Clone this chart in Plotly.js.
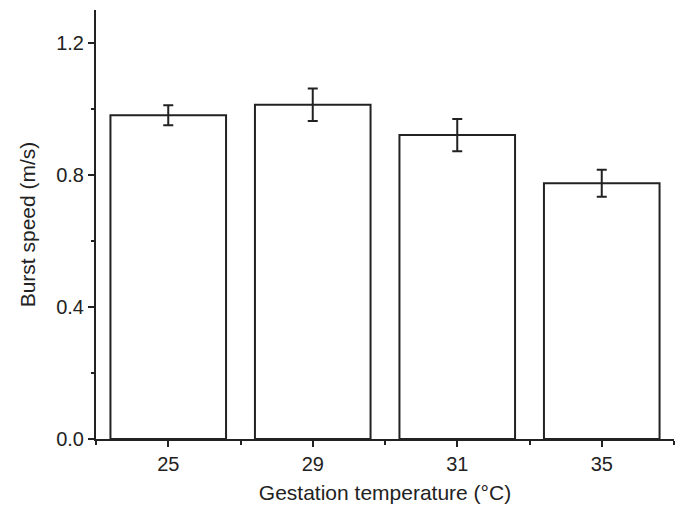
<!DOCTYPE html>
<html>
<head>
<meta charset="utf-8">
<script src="https://cdn.plot.ly/plotly-3.0.1.min.js"></script>
<style>html,body{margin:0;padding:0;background:#fff;}#chart{width:680px;height:505px;}</style>
</head>
<body>
<div id="chart"></div>
<script>
const categories = ["25", "29", "31", "35"];
const burstSpeed = [0.981, 1.013, 0.921, 0.775];
const burstSpeedErr = [0.030, 0.049, 0.049, 0.041];
const yTickVals = [0.0, 0.4, 0.8, 1.2];
const yTickText = ["0.0", "0.4", "0.8", "1.2"];

const xPos = categories.map((c, i) => i);
const ink = '#222222';
const family = '"Liberation Sans", Arial, Helvetica, sans-serif';
const font = {family: family, size: 20, color: ink};
const titleFont = {family: family, size: 21, color: ink};

const trace = {
  type: 'bar',
  x: xPos,
  y: burstSpeed,
  width: 0.8,
  marker: {color: '#ffffff', line: {color: ink, width: 2}},
  error_y: {type: 'data', array: burstSpeedErr, visible: true, color: ink, thickness: 2, width: 5},
  hoverinfo: 'skip'
};

const layout = {
  width: 680, height: 505,
  margin: {l: 96, r: 6, t: 10, b: 66},
  paper_bgcolor: '#ffffff', plot_bgcolor: '#ffffff',
  font: font,
  showlegend: false,
  bargap: 0.2,
  xaxis: {
    range: [-0.5, 3.5],
    tickmode: 'array', tickvals: xPos, ticktext: categories,
    ticks: 'outside', ticklen: 6, tickwidth: 2, tickcolor: ink,
    minor: {tickmode: 'linear', tick0: -0.5, dtick: 1, ticks: 'outside', ticklen: 4, tickwidth: 2, tickcolor: ink},
    showline: true, linecolor: ink, linewidth: 2,
    showgrid: false, zeroline: false,
    tickfont: font,
    title: {text: 'Gestation temperature (°C)', font: titleFont, standoff: 11}
  },
  yaxis: {
    range: [0, 1.3],
    tickmode: 'array', tickvals: yTickVals, ticktext: yTickText,
    ticks: 'outside', ticklen: 6, tickwidth: 2, tickcolor: ink,
    minor: {tickmode: 'linear', tick0: 0, dtick: 0.2, ticks: 'outside', ticklen: 3, tickwidth: 2, tickcolor: ink},
    showline: true, linecolor: ink, linewidth: 2,
    showgrid: false, zeroline: false,
    tickfont: font,
    title: {text: 'Burst speed (m/s)', font: titleFont, standoff: 15}
  }
};

Plotly.newPlot('chart', [trace], layout, {displayModeBar: false, staticPlot: true});
</script>
</body>
</html>
